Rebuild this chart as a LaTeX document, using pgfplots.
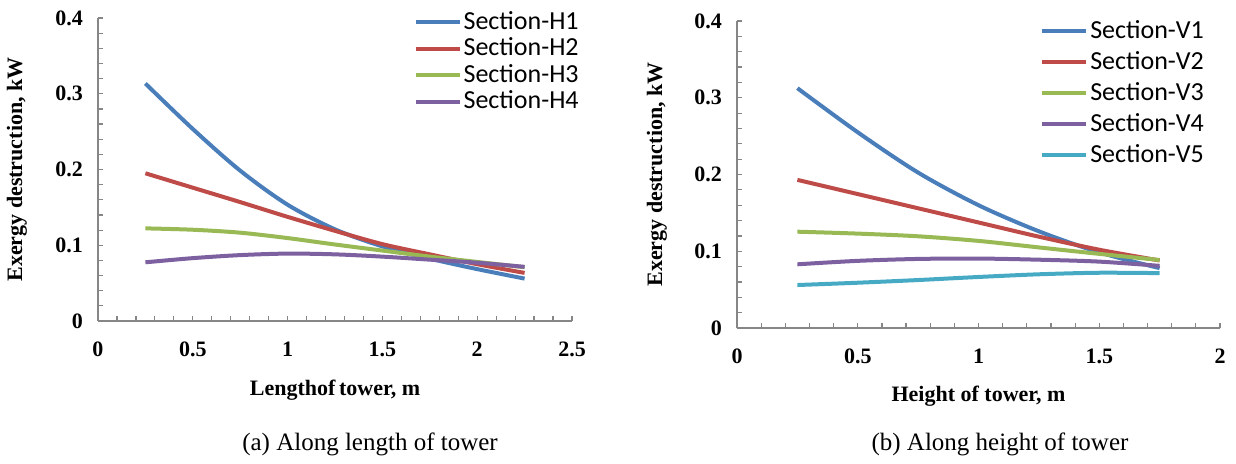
\documentclass[border=0pt]{standalone}
\usepackage{fontspec}
\setmainfont{Liberation Serif}
\newfontfamily\legfont{Carlito}
\usepackage{pgfplots}
\pgfplotsset{compat=1.18}
\usepackage{pgfplotstable}
\definecolor{cA}{HTML}{4A7EBB}
\definecolor{cB}{HTML}{BE4B48}
\definecolor{cC}{HTML}{98B954}
\definecolor{cD}{HTML}{7D60A0}
\definecolor{cE}{HTML}{46AAC5}
\definecolor{axc}{HTML}{868686}
\pgfplotstableread{
x H1 H2 H3 H4
0.25 0.3135 0.195 0.1223 0.0775
0.50 0.2535 0.176 0.1205 0.083
0.75 0.1985 0.157 0.1166 0.087
1.00 0.1535 0.1375 0.1095 0.089
1.25 0.121 0.119 0.101 0.088
1.50 0.0985 0.1015 0.093 0.085
1.75 0.0823 0.088 0.085 0.081
2.00 0.0685 0.075 0.078 0.077
2.25 0.056 0.0635 0.071 0.0715
}\tabH
\pgfplotstableread{
x V1 V2 V3 V4 V5
0.25 0.3125 0.193 0.1255 0.083 0.056
0.50 0.255 0.1745 0.123 0.0875 0.059
0.75 0.2025 0.156 0.1195 0.0900 0.0625
1.00 0.160 0.1375 0.1135 0.0905 0.0665
1.25 0.126 0.119 0.105 0.089 0.070
1.50 0.0985 0.102 0.0966 0.0865 0.072
1.75 0.078 0.088 0.0886 0.081 0.0715
}\tabV
\pgfplotsset{
  common/.style={
    scale only axis,
    axis lines=left,
    axis line style={-, draw=axc, line width=0.6pt},
    every tick/.style={draw=axc, line width=0.6pt},
    tick align=inside,
    major tick length=2.5pt, minor tick length=2.5pt,
    minor tick num=4,
    ymin=0, ymax=0.4, ytick={0,0.1,0.2,0.3,0.4},
    /pgf/number format/assume math mode=true,
    tick label style={font=\fontsize{11}{13}\selectfont\bfseries},
    xticklabel style={yshift=-7pt},
    yticklabel style={xshift=-4pt},
    label style={font=\fontsize{11}{13}\selectfont\bfseries},
    legend style={draw=none, fill=none, font=\legfont\fontsize{13}{15}\selectfont,
      anchor=north west, cells={anchor=west}, inner sep=0pt,
      nodes={inner sep=1pt, text height=9pt, text depth=2pt}},
    legend image code/.code={\draw[#1, line width=2pt] (0pt,0pt) -- (22pt,0pt);},
    every axis plot/.append style={line width=2pt, smooth, no marks},
    clip=false,
  }
}
\begin{document}
\begin{tikzpicture}
\useasboundingbox (0,0) rectangle (618pt,231.5pt);
\begin{axis}[common,
  at={(49pt,71pt)}, anchor=south west,
  width=237pt, height=151.5pt,
  xmin=0, xmax=2.5, xtick={0,0.5,1,1.5,2,2.5},
  xlabel={Lengthof\,tower, m},
  ylabel={Exergy destruction, kW},
  xlabel style={at={(axis description cs:0.5,0)}, anchor=center, yshift=-34.5pt},
  ylabel style={at={(axis description cs:0,0.5)}, anchor=center, yshift=40.5pt},
  legend style={at={(0.665,1.03)}, row sep=0.2pt},
]
\addplot[cA] table[x=x,y=H1]{\tabH};
\addplot[cB] table[x=x,y=H2]{\tabH};
\addplot[cC] table[x=x,y=H3]{\tabH};
\addplot[cD] table[x=x,y=H4]{\tabH};
\legend{Section-H1,Section-H2,Section-H3,Section-H4}
\end{axis}
\begin{axis}[common,
  at={(368.5pt,67.5pt)}, anchor=south west,
  width=241.5pt, height=153.5pt,
  xmin=0, xmax=2, xtick={0,0.5,1,1.5,2},
  xlabel={Height of tower, m},
  ylabel={Exergy destruction, kW},
  xlabel style={at={(axis description cs:0.5,0)}, anchor=center, yshift=-34pt},
  ylabel style={at={(axis description cs:0,0.5)}, anchor=center, yshift=40pt},
  legend style={at={(0.627,1.01)}, row sep=2.5pt},
]
\addplot[cA] table[x=x,y=V1]{\tabV};
\addplot[cB] table[x=x,y=V2]{\tabV};
\addplot[cC] table[x=x,y=V3]{\tabV};
\addplot[cD] table[x=x,y=V4]{\tabV};
\addplot[cE] table[x=x,y=V5]{\tabV};
\legend{Section-V1,Section-V2,Section-V3,Section-V4,Section-V5}
\end{axis}
\node[font=\fontsize{12.5}{15}\selectfont] at (185pt,9.5pt) {(a) Along length of tower};
\node[font=\fontsize{12.5}{15}\selectfont] at (500pt,9.5pt) {(b) Along height of tower};
\end{tikzpicture}
\end{document}
